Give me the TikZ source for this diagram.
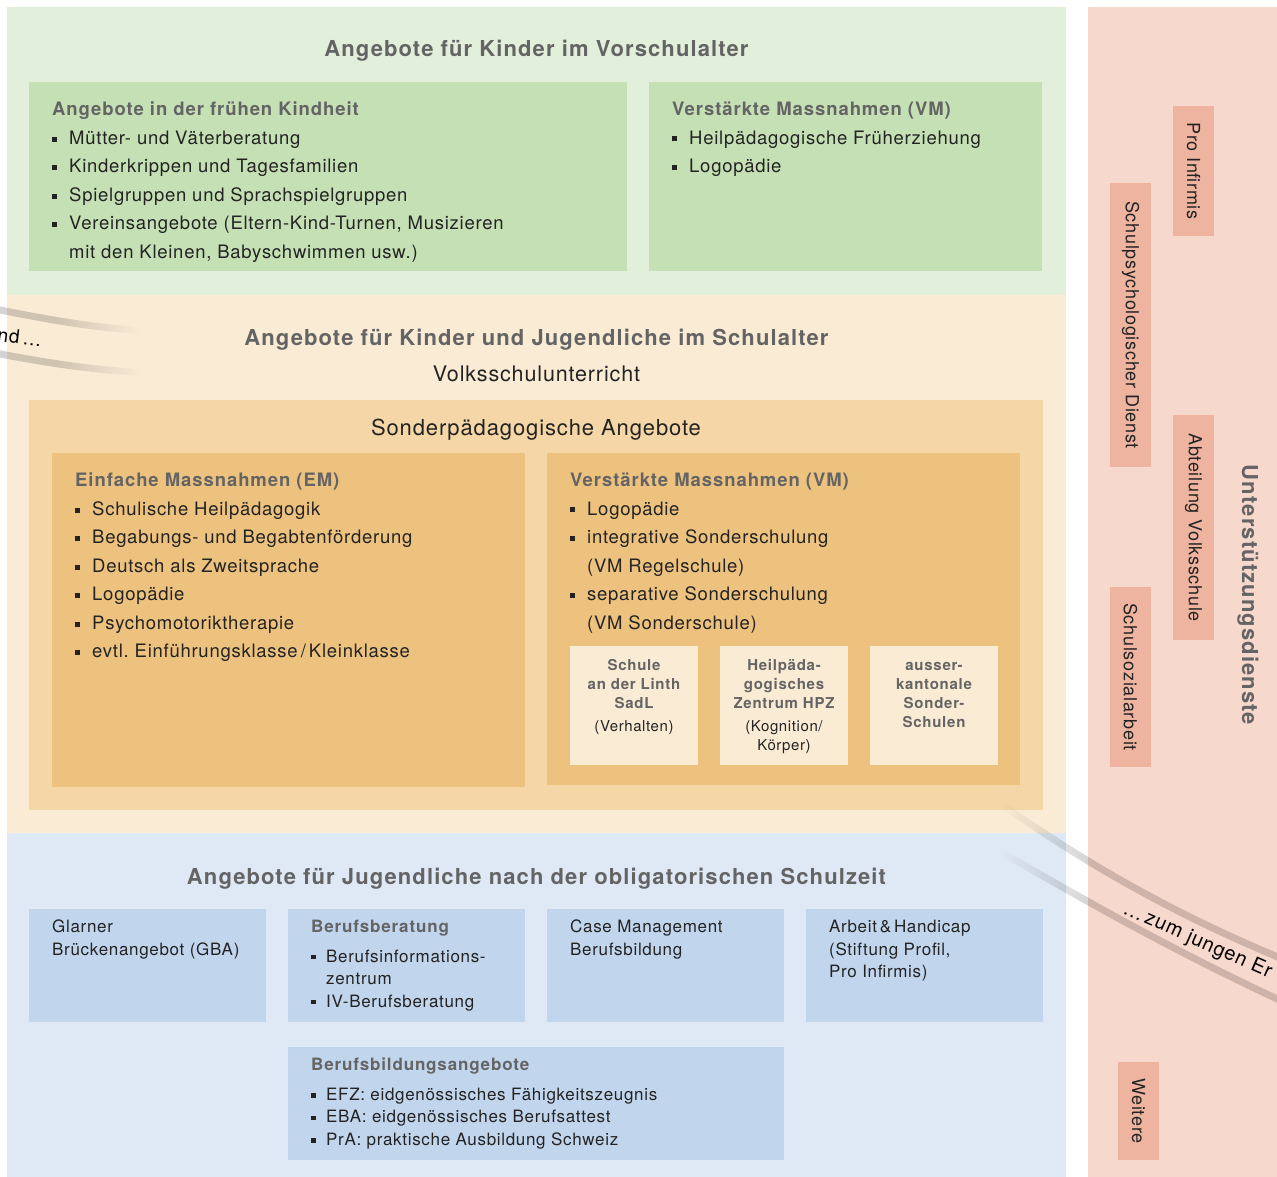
\documentclass[tikz,border=0pt]{standalone}
\usepackage{fontspec}
\setmainfont{TeX Gyre Heros}[LetterSpace=4,BoldFeatures={LetterSpace=5}]
\usepackage{tikz}
\usetikzlibrary{positioning,fadings}

\definecolor{greenbg}{RGB}{226,239,218}
\definecolor{greenbox}{RGB}{197,224,180}
\definecolor{beigebg}{RGB}{250,235,213}
\definecolor{orangemid}{RGB}{245,214,166}
\definecolor{orangebox}{RGB}{237,194,127}
\definecolor{bluebg}{RGB}{223,232,245}
\definecolor{bluebox}{RGB}{193,213,237}
\definecolor{pinkbg}{RGB}{247,216,204}
\definecolor{pinkbox}{RGB}{238,180,160}
\definecolor{titlegrey}{RGB}{100,100,100}
\definecolor{textblack}{RGB}{35,35,35}

\newcommand{\bul}[1][17pt]{\makebox[#1][l]{\rule[0.16em]{0.27em}{0.27em}}}
\newcommand{\ind}[1][17pt]{\hspace*{#1}}

% bands fade out to the right / fade in from the left
\begin{tikzfadingfrompicture}[name=bandout]
  \path (-400pt,-200pt) rectangle (400pt,200pt);
  \fill[transparent!0] (-400pt,-200pt) rectangle (-40pt,200pt);
  \shade[left color=transparent!0,right color=transparent!100]
    (-40pt,-200pt) rectangle (45pt,200pt);
\end{tikzfadingfrompicture}
\begin{tikzfadingfrompicture}[name=bandin]
  \path (-400pt,-300pt) rectangle (400pt,300pt);
  \fill[transparent!0] (45pt,-300pt) rectangle (400pt,300pt);
  \shade[left color=transparent!100,right color=transparent!0]
    (-45pt,-300pt) rectangle (45pt,300pt);
\end{tikzfadingfrompicture}

\begin{document}
\begin{tikzpicture}[x=1pt,y=-1pt,
  area/.style={anchor=north west,inner sep=0pt,outer sep=0pt},
  list/.style={inner sep=0pt,align=left,text=textblack,
    font=\fontsize{18.5}{28.5}\selectfont},
  small/.style={inner sep=0pt,align=left,text=textblack,
    font=\fontsize{17}{22.5}\selectfont},
  head/.style={inner sep=0pt,anchor=base,text=titlegrey,
    font=\bfseries\fontsize{22}{25}\selectfont},
  school/.style={inner sep=0pt,anchor=north,align=center,text=titlegrey,
    font=\bfseries\fontsize{15}{19}\selectfont},
  service/.style={rotate=-90,fill=pinkbox,minimum height=41pt,inner sep=0pt,
    text=textblack,font=\fontsize{18}{22}\selectfont},
  band/.style={line width=7pt,draw=black,draw opacity=0.17}]

\useasboundingbox (0,0) rectangle (1277,1177);

% Vorschulalter
\node (vorschule) [area,fill=greenbg,minimum width=1059pt,minimum height=288pt] at (7,7) {};
\node (vorschulehead) [head] at (536.5,57) {Angebote für Kinder im Vorschulalter};
\node (kindheit) [area,fill=greenbox,minimum width=598pt,minimum height=189pt] at (29,82) {};
\node (kindheittxt) [list,below right=20pt and 23pt of kindheit.north west] {%
  {\bfseries\color{titlegrey}Angebote in der frühen Kindheit}\\
  \bul Mütter- und Väterberatung\\
  \bul Kinderkrippen und Tagesfamilien\\
  \bul Spielgruppen und Sprachspielgruppen\\
  \bul Vereinsangebote (Eltern-Kind-Turnen, Musizieren\\
  \ind mit den Kleinen, Babyschwimmen usw.)};
\node (fruehvm) [area,fill=greenbox,minimum width=393pt,minimum height=189pt] at (649,82) {};
\node (fruehvmtxt) [list,below right=20pt and 23pt of fruehvm.north west] {%
  {\bfseries\color{titlegrey}Verstärkte Massnahmen (VM)}\\
  \bul Heilpädagogische Früherziehung\\
  \bul Logopädie};

% Schulalter
\node (schule) [area,fill=beigebg,minimum width=1059pt,minimum height=538pt] at (7,295) {};
\node (schulehead) [head] at (536.5,345) {Angebote für Kinder und Jugendliche im Schulalter};
\node (volksschule) [head,text=textblack,font=\fontsize{21.5}{25}\selectfont] at (536.5,381)
  {Volksschulunterricht};
\node (sonder) [area,fill=orangemid,minimum width=1014pt,minimum height=410pt] at (29,400) {};
\node (sonderhead) [head,text=textblack,font=\fontsize{22}{25}\selectfont] at (536,435)
  {Sonderpädagogische Angebote};
\node (em) [area,fill=orangebox,minimum width=473pt,minimum height=334pt] at (52,453) {};
\node (emtxt) [list,below right=20pt and 23pt of em.north west] {%
  {\bfseries\color{titlegrey}Einfache Massnahmen (EM)}\\
  \bul Schulische Heilpädagogik\\
  \bul Begabungs- und Begabtenförderung\\
  \bul Deutsch als Zweitsprache\\
  \bul Logopädie\\
  \bul Psychomotoriktherapie\\
  \bul evtl.\ Einführungsklasse\,/\,Kleinklasse};
\node (vm) [area,fill=orangebox,minimum width=473pt,minimum height=332pt] at (547,453) {};
\node (vmtxt) [list,below right=20pt and 23pt of vm.north west] {%
  {\bfseries\color{titlegrey}Verstärkte Massnahmen (VM)}\\
  \bul Logopädie\\
  \bul integrative Sonderschulung\\
  \ind (VM Regelschule)\\
  \bul separative Sonderschulung\\
  \ind (VM Sonderschule)};
\node (sadl) [area,fill=beigebg,minimum width=128pt,minimum height=119pt] at (570,646) {};
\node (sadltxt) [school,below=13pt of sadl.north] {Schule\\an der Linth\\SadL\\[4pt]
  {\mdseries\color{textblack}(Verhalten)}};
\node (hpz) [area,fill=beigebg,minimum width=128pt,minimum height=119pt] at (720,646) {};
\node (hpztxt) [school,below=13pt of hpz.north] {Heilpäda-\\gogisches\\Zentrum HPZ\\[4pt]
  {\mdseries\color{textblack}(Kognition/}\\{\mdseries\color{textblack}Körper)}};
\node (ausser) [area,fill=beigebg,minimum width=128pt,minimum height=119pt] at (870,646) {};
\node (ausssertxt) [school,below=13pt of ausser.north] {\vphantom{S}ausser-\\kantonale\\Sonder-\\Schulen};

% nach der Schulzeit
\node (nachschule) [area,fill=bluebg,minimum width=1059pt,minimum height=344pt] at (7,833) {};
\node (nachschulehead) [head] at (536.5,884)
  {Angebote für Jugendliche nach der obligatorischen Schulzeit};
\node (gba) [area,fill=bluebox,minimum width=237pt,minimum height=113pt] at (29,909) {};
\node (gbatxt) [small,below right=11pt and 23pt of gba.north west]
  {Glarner\\Brückenangebot (GBA)};
\node (beratung) [area,fill=bluebox,minimum width=237pt,minimum height=113pt] at (288,909) {};
\node (beratungtxt) [small,below right=11pt and 23pt of beratung.north west] {%
  {\bfseries\color{titlegrey}Berufsberatung}\\[7pt]
  \bul[15pt]Berufsinformations-\\
  \ind[15pt]zentrum\\
  \bul[15pt]IV-Berufsberatung};
\node (case) [area,fill=bluebox,minimum width=237pt,minimum height=113pt] at (547,909) {};
\node (casetxt) [small,below right=11pt and 23pt of case.north west]
  {Case Management\\Berufsbildung};
\node (handicap) [area,fill=bluebox,minimum width=237pt,minimum height=113pt] at (806,909) {};
\node (handicaptxt) [small,below right=11pt and 23pt of handicap.north west]
  {Arbeit\,\&\,Handicap\\(Stiftung Profil,\\Pro Infirmis)};
\node (bildung) [area,fill=bluebox,minimum width=496pt,minimum height=113pt] at (288,1047) {};
\node (bildungtxt) [small,below right=11pt and 23pt of bildung.north west] {%
  {\bfseries\color{titlegrey}Berufsbildungsangebote}\\[7pt]
  \bul[15pt]EFZ: eidgenössisches Fähigkeitszeugnis\\
  \bul[15pt]EBA: eidgenössisches Berufsattest\\
  \bul[15pt]PrA: praktische Ausbildung Schweiz};

% Unterstuetzungsdienste
\node (dienste) [area,fill=pinkbg,minimum width=189pt,minimum height=1170pt] at (1088,7) {};
\node (dienstehead) [head,anchor=center,rotate=-90,font=\bfseries\fontsize{22}{25}\selectfont]
  at (1248,595) {Unterstützungsdienste};
\node (proinfirmis) [service,minimum width=130pt] at (1193.5,171) {Pro Infirmis};
\node (spd) [service,minimum width=284pt] at (1130.5,325) {Schulpsychologischer Dienst};
\node (avs) [service,minimum width=225pt] at (1193.5,527.5) {Abteilung Volksschule};
\node (ssa) [service,minimum width=180pt] at (1130.5,677) {Schulsozialarbeit};
\node (weitere) [service,minimum width=98pt] at (1138.5,1111) {Weitere};

% Baender
\begin{scope}
\clip (0,0) rectangle (1277,1177);
\draw[band,path fading=bandout,fit fading=false,fading transform={shift={(95,340)}}]
  (-20,306) .. controls (40,318) and (90,328) .. (150,331)
  (-20,350) .. controls (40,362) and (90,370) .. (150,373);
\node (vonher) [anchor=base west,inner sep=0pt,rotate=-7,font=\fontsize{19}{22}\selectfont]
  at (-3,341) {nd\,…};
\draw[band,path fading=bandin,fit fading=false,fading transform={shift={(1045,900)}}]
  (995,800) .. controls (1060,845) and (1150,905) .. (1290,962)
  (995,849) .. controls (1060,885) and (1150,940) .. (1290,1005);
\node (weiter) [anchor=base west,inner sep=0pt,rotate=-24,font=\fontsize{20}{22}\selectfont]
  at (1122,913) {…\,zum jungen Er};
\end{scope}
\end{tikzpicture}
\end{document}
